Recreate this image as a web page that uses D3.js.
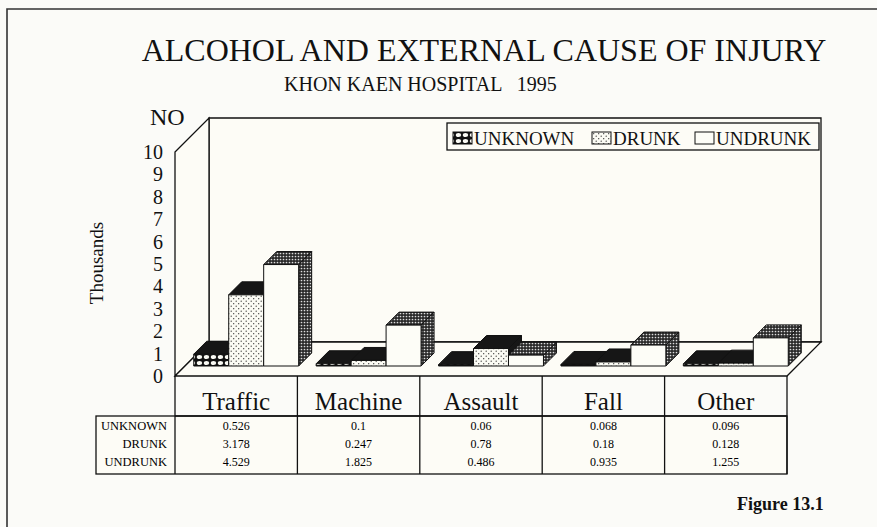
<!DOCTYPE html>
<html>
<head>
<meta charset="utf-8">
<script src="https://cdn.jsdelivr.net/npm/d3@7"></script>
<style>
  html, body { margin: 0; padding: 0; background: #fbfbf8; }
  svg { display: block; font-family: "Liberation Serif", "Times New Roman", serif; }
</style>
</head>
<body>
<script>
'use strict';

// chart data
const categories = ["Traffic", "Machine", "Assault", "Fall", "Other"];
const series = ["UNKNOWN", "DRUNK", "UNDRUNK"];
const unknownVals = [0.526, 0.1, 0.06, 0.068, 0.096];
const drunkVals = [3.178, 0.247, 0.78, 0.18, 0.128];
const undrunkVals = [4.529, 1.825, 0.486, 0.935, 1.255];
const yTicks = [0, 1, 2, 3, 4, 5, 6, 7, 8, 9, 10];

const params = {
	width: 877, height: 527,
	left: 175, right: 787,   // floor front edge
	depth: 34,                // wall depth offset
	barZ0: 10, barZ1: 23      // bar depth range
};

const valuesBySeries = [unknownVals, drunkVals, undrunkVals];

const svg = d3.select("body").append("svg")
	.attr("width", params.width)
	.attr("height", params.height);

// patterns for bar faces
const defs = svg.append("defs");
const pUnk = defs.append("pattern").attr("id", "pUnk")
	.attr("patternUnits", "userSpaceOnUse").attr("width", 7).attr("height", 6);
pUnk.append("rect").attr("width", 7).attr("height", 6).attr("fill", "#111");
pUnk.append("ellipse").attr("cx", 3.5).attr("cy", 3).attr("rx", 2.7).attr("ry", 2.1).attr("fill", "#fafaf4");

const pDrunk = defs.append("pattern").attr("id", "pDrunk")
	.attr("patternUnits", "userSpaceOnUse").attr("width", 5).attr("height", 5);
pDrunk.append("rect").attr("width", 5).attr("height", 5).attr("fill", "#fbfbf4");
pDrunk.append("circle").attr("cx", 1.2).attr("cy", 1.2).attr("r", 0.65).attr("fill", "#333");
pDrunk.append("circle").attr("cx", 3.7).attr("cy", 3.7).attr("r", 0.65).attr("fill", "#333");

const pDense = defs.append("pattern").attr("id", "pDense")
	.attr("patternUnits", "userSpaceOnUse").attr("width", 3).attr("height", 3);
pDense.append("rect").attr("width", 3).attr("height", 3).attr("fill", "#2a2a2a");
pDense.append("circle").attr("cx", 1.5).attr("cy", 1.5).attr("r", 0.85).attr("fill", "#ddd");

const frontFill = ["url(#pUnk)", "url(#pDrunk)", "#fdfdf7"];
const topFill = ["#161616", "#161616", "url(#pDense)"];
const sideFill = ["#161616", "#161616", "url(#pDense)"];

// scales
const yScale = d3.scaleLinear().domain([0, 10]).range([376, 152]);
const xScale = d3.scaleBand().domain(categories).range([params.left, params.right]);
const sScale = d3.scaleBand().domain(series).range([0, xScale.bandwidth()]).paddingOuter(0.25);

// outer frame
svg.append("path")
	.attr("d", "M7,527 L7,9 L877,9")
	.attr("fill", "none").attr("stroke", "#333").attr("stroke-width", 1.6);

// titles
svg.append("text").attr("x", 484).attr("y", 61).attr("text-anchor", "middle")
	.attr("font-size", 32).attr("fill", "#111")
	.text("ALCOHOL AND EXTERNAL CAUSE OF INJURY");
svg.append("text").attr("x", 284).attr("y", 91)
	.attr("font-size", 20).attr("fill", "#111").attr("xml:space", "preserve")
	.text("KHON KAEN HOSPITAL   1995");
svg.append("text").attr("x", 150).attr("y", 125)
	.attr("font-size", 24).attr("fill", "#111").text("NO");

// walls and floor
const D = params.depth;
const y0 = yScale(0), yTop = yScale(10);
const L = params.left, R = params.right;
const wall = { fill: "#fdfcf6", stroke: "#111" };

svg.append("polygon") // back wall
	.attr("points", [[L + D, yTop - D], [R + D, yTop - D], [R + D, y0 - D], [L + D, y0 - D]].join(" "))
	.attr("fill", wall.fill).attr("stroke", wall.stroke).attr("stroke-width", 1.3);
svg.append("polygon") // left wall
	.attr("points", [[L, yTop], [L + D, yTop - D], [L + D, y0 - D], [L, y0]].join(" "))
	.attr("fill", wall.fill).attr("stroke", wall.stroke).attr("stroke-width", 1.3);
svg.append("polygon") // floor
	.attr("points", [[L, y0], [R, y0], [R + D, y0 - D], [L + D, y0 - D]].join(" "))
	.attr("fill", wall.fill).attr("stroke", wall.stroke).attr("stroke-width", 1.3);

// y axis labels
const yAxis = svg.append("g")
	.attr("transform", `translate(${L},0)`)
	.call(d3.axisLeft(yScale).tickValues(yTicks).tickSize(0).tickPadding(12));
yAxis.select(".domain").remove();
yAxis.selectAll("text")
	.attr("font-family", "Liberation Serif, serif")
	.attr("font-size", 20).attr("fill", "#111");

svg.append("text")
	.attr("transform", "translate(103,263) rotate(-90)")
	.attr("text-anchor", "middle").attr("font-size", 19).attr("fill", "#111")
	.text("Thousands");

// legend
const legend = svg.append("g");
legend.append("rect").attr("x", 447).attr("y", 123).attr("width", 372).attr("height", 27)
	.attr("fill", "#fdfcf6").attr("stroke", "#111").attr("stroke-width", 1.3);
const legendX = [453, 592, 695];
series.forEach((s, i) => {
	legend.append("rect").attr("x", legendX[i]).attr("y", 132).attr("width", 19).attr("height", 12)
		.attr("fill", frontFill[i]).attr("stroke", "#111").attr("stroke-width", 1);
	legend.append("text").attr("x", legendX[i] + 21).attr("y", 145)
		.attr("font-size", 19).attr("fill", "#111").text(s);
});

// bars
const z0 = params.barZ0, z1 = params.barZ1, dz = z1 - z0;
const bw = sScale.bandwidth();
const bars = svg.append("g");
categories.forEach((c, ci) => {
	series.forEach((s, si) => {
		const v = valuesBySeries[si][ci];
		const x = xScale(c) + sScale(s) + z0;
		const yv = yScale(v) - z0;
		const yb = yScale(0) - z0;
		const g = bars.append("g").attr("stroke", "#111").attr("stroke-width", 1).attr("stroke-linejoin", "round");
		g.append("polygon")
			.attr("points", [[x + bw, yv], [x + bw + dz, yv - dz], [x + bw + dz, yb - dz], [x + bw, yb]].join(" "))
			.attr("fill", sideFill[si]);
		g.append("polygon")
			.attr("points", [[x, yv], [x + bw, yv], [x + bw + dz, yv - dz], [x + dz, yv - dz]].join(" "))
			.attr("fill", topFill[si]);
		g.append("rect")
			.attr("x", x).attr("y", yv).attr("width", bw).attr("height", yb - yv)
			.attr("fill", frontFill[si]);
	});
});

// category label row and data table
const tTop = 416, tBot = 474, tLeft = 96;
const grid = svg.append("g").attr("stroke", "#111").attr("stroke-width", 1.3).attr("fill", "none");
grid.append("rect").attr("x", tLeft).attr("y", tTop).attr("width", R - tLeft).attr("height", tBot - tTop)
	.attr("fill", "#fdfcf6");
grid.append("line").attr("x1", L).attr("x2", R).attr("y1", tTop).attr("y2", tTop);
categories.forEach(c => {
	grid.append("line").attr("x1", xScale(c)).attr("x2", xScale(c)).attr("y1", y0).attr("y2", tBot);
});
grid.append("line").attr("x1", R).attr("x2", R).attr("y1", y0).attr("y2", tBot);

svg.append("g").selectAll("text").data(categories).join("text")
	.attr("x", d => xScale(d) + xScale.bandwidth() / 2).attr("y", 410)
	.attr("text-anchor", "middle").attr("font-size", 25).attr("fill", "#111")
	.text(d => d);

const rowY = [430, 448, 466];
series.forEach((s, si) => {
	svg.append("text").attr("x", 167).attr("y", rowY[si]).attr("text-anchor", "end")
		.attr("font-size", 12.5).attr("fill", "#000").text(s);
	svg.append("g").selectAll("text").data(categories).join("text")
		.attr("x", d => xScale(d) + xScale.bandwidth() / 2).attr("y", rowY[si])
		.attr("text-anchor", "middle").attr("font-size", 12).attr("fill", "#000")
		.text((d, i) => String(valuesBySeries[si][i]));
});

svg.append("text").attr("x", 737).attr("y", 510)
	.attr("font-size", 18).attr("font-weight", "bold").attr("fill", "#111")
	.text("Figure 13.1");
</script>
</body>
</html>
